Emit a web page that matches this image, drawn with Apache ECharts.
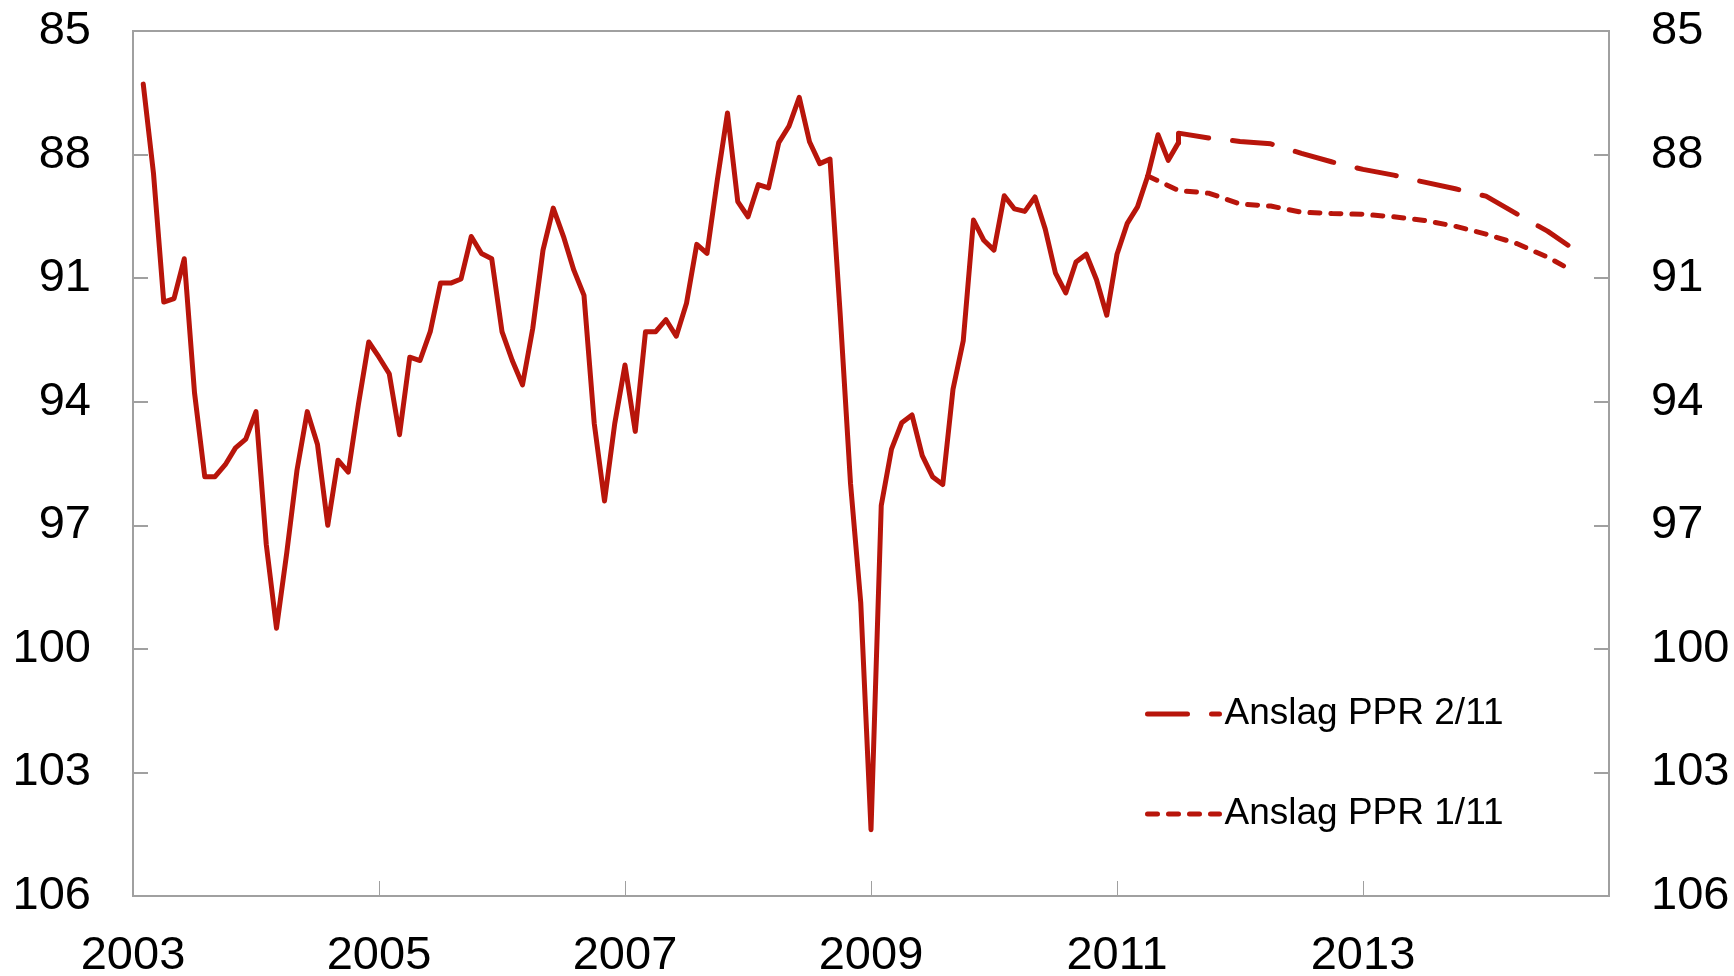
<!DOCTYPE html>
<html>
<head>
<meta charset="utf-8">
<script src="https://cdn.jsdelivr.net/npm/echarts@6/dist/echarts.min.js"></script>
<style>
  html, body { margin: 0; padding: 0; background: #fff; }
  #chart { width: 1734px; height: 976px; }
</style>
</head>
<body>
<div id="chart"></div>
<script>
// importveid kronekurs, månedlig fra jan 2003 (invertert akse)
const actualStart = '2003-01';
const actualValues = [
  86.29, 88.46, 91.58, 91.50, 90.53, 93.78, 95.82, 95.82, 95.53, 95.12, 94.91, 94.24,
  97.46, 99.50, 97.67, 95.66, 94.24, 95.04, 97.00, 95.42, 95.71, 94.05, 92.55, 92.92,
  93.32, 94.80, 92.92, 93.00, 92.30, 91.12, 91.12, 91.02, 89.99, 90.40, 90.53, 92.30,
  93.00, 93.59, 92.22, 90.32, 89.30, 89.99, 90.80, 91.42, 94.53, 96.41, 94.53, 93.11,
  94.72, 92.30, 92.30, 92.01, 92.41, 91.61, 90.18, 90.40, 88.63, 86.99, 89.14, 89.51,
  88.73, 88.81, 87.71, 87.31, 86.61, 87.69, 88.22, 88.11, 91.90, 95.98, 98.88, 104.39,
  96.52, 95.15, 94.51, 94.32, 95.31, 95.82, 96.01, 93.70, 92.52, 89.59, 90.08, 90.32,
  89.00, 89.32, 89.38, 89.03, 89.81, 90.88, 91.36, 90.61, 90.42, 91.04, 91.90, 90.42,
  89.67, 89.27, 88.52, 87.52, 88.14, 87.71
];

// Anslag PPR 2/11
const ppr2Months = ['2011-06', '2011-06', '2011-09', '2011-12', '2012-03', '2012-06', '2012-09', '2012-12',
  '2013-03', '2013-06', '2013-09', '2013-12', '2014-03', '2014-06', '2014-08'];
const ppr2Values = [87.71, 87.48, 87.60, 87.68, 87.74, 87.97, 88.18, 88.36,
  88.50, 88.67, 88.83, 89.01, 89.44, 89.86, 90.20];

// Anslag PPR 1/11
const ppr1Months = ['2011-03', '2011-06', '2011-09', '2011-12', '2012-03', '2012-06', '2012-09', '2012-12',
  '2013-03', '2013-06', '2013-09', '2013-12', '2014-03', '2014-06', '2014-08'];
const ppr1Values = [88.52, 88.87, 88.94, 89.20, 89.25, 89.40, 89.43, 89.45,
  89.51, 89.60, 89.74, 89.93, 90.16, 90.49, 90.76];

const yTicks = [85, 88, 91, 94, 97, 100, 103, 106];
const xTickLabels = ['2003', '2005', '2007', '2009', '2011', '2013'];

const RED = '#b8150b';
const GREY = '#a0a0a0';
const FONT = 'Liberation Sans, Arial, sans-serif';

// 'YYYY-MM' -> år som desimaltall (slutten av måneden)
function toX(label) {
  const p = label.split('-');
  return Number(p[0]) + Number(p[1]) / 12;
}
function monthLabels(start, n) {
  const p = start.split('-');
  let y = Number(p[0]), m = Number(p[1]);
  const out = [];
  for (let i = 0; i < n; i++) {
    out.push(y + '-' + (m < 10 ? '0' + m : m));
    m++;
    if (m > 12) { m = 1; y++; }
  }
  return out;
}
function pairs(months, values) {
  return months.map((mo, i) => [toX(mo), values[i]]);
}

const actualMonths = monthLabels(actualStart, actualValues.length);

const myChart = echarts.init(document.getElementById('chart'));

const yAxisBase = {
  type: 'value',
  inverse: true,
  min: yTicks[0],
  max: yTicks[yTicks.length - 1],
  interval: 3,
  splitLine: { show: false },
  axisLine: { show: true, lineStyle: { color: GREY, width: 2 } },
  axisTick: { show: true, inside: true, length: 15, lineStyle: { color: GREY, width: 2 } },
  axisLabel: { fontSize: 47, color: '#000', fontFamily: FONT, margin: 42 }
};

const option = {
  animation: false,
  grid: {
    left: 133, right: 125, top: 31, bottom: 80,
    outerBoundsMode: 'none',
    containLabel: false,
    show: true, borderColor: GREY, borderWidth: 2
  },
  legend: {
    data: ['Anslag PPR 2/11', 'Anslag PPR 1/11'],
    orient: 'vertical',
    left: 1145,
    top: 694,
    padding: 0,
    itemWidth: 72,
    itemHeight: 4,
    itemGap: 60,
    itemStyle: { opacity: 0 },
    lineStyle: { width: 5 },
    textStyle: { fontSize: 37, color: '#000', fontFamily: FONT, lineHeight: 40 }
  },
  xAxis: {
    type: 'value',
    min: 2003,
    max: 2015,
    interval: 2,
    splitLine: { show: false },
    axisLine: { show: true, lineStyle: { color: GREY, width: 2 } },
    axisTick: { show: true, inside: true, length: 15, lineStyle: { color: GREY, width: 1 } },
    axisLabel: {
      fontSize: 47, color: '#000', fontFamily: FONT, margin: 37,
      formatter: v => xTickLabels.indexOf(String(v)) >= 0 ? String(v) : ''
    }
  },
  yAxis: [
    Object.assign({}, yAxisBase, { position: 'left' }),
    Object.assign({}, yAxisBase, { position: 'right' })
  ],
  series: [
    {
      name: 'Anslag PPR 1/11',
      type: 'line',
      data: pairs(ppr1Months, ppr1Values),
      symbol: 'none',
      lineStyle: { color: RED, width: 5, type: [10, 11], cap: 'round' },
      itemStyle: { color: RED }
    },
    {
      name: 'Anslag PPR 2/11',
      type: 'line',
      data: pairs(ppr2Months, ppr2Values),
      symbol: 'none',
      lineStyle: { color: RED, width: 5, type: [40, 24], cap: 'round', join: 'round' },
      itemStyle: { color: RED }
    },
    {
      name: 'Faktisk',
      type: 'line',
      data: pairs(actualMonths, actualValues),
      symbol: 'none',
      lineStyle: { color: RED, width: 5, cap: 'round', join: 'round' },
      itemStyle: { color: RED }
    }
  ]
};
myChart.setOption(option);
</script>
</body>
</html>
